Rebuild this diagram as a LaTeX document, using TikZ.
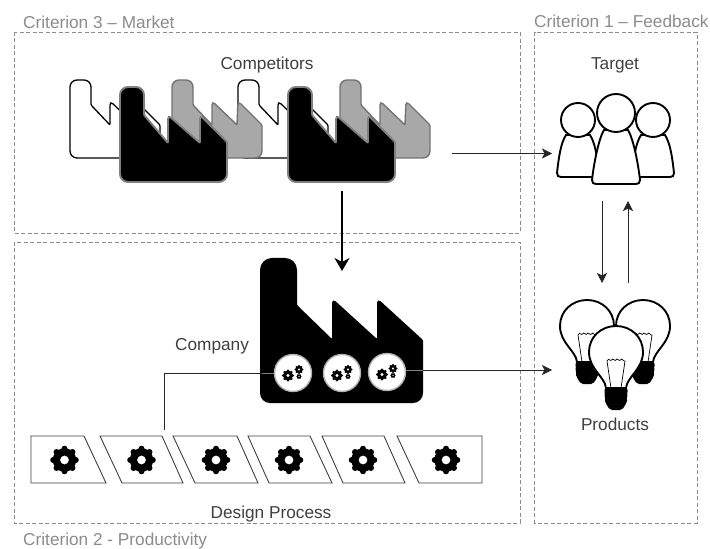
\documentclass[tikz,border=0pt]{standalone}
\usepackage{fontspec}
\setmainfont{Liberation Sans}
\usetikzlibrary{arrows.meta,calc}
\definecolor{crit}{gray}{0.55}
\definecolor{lab}{gray}{0.25}
\definecolor{midg}{gray}{0.66}
\newcommand{\factorypath}{
  (0,78) [rounded corners=7pt] -- (0,0) -- (21,0) [rounded corners=1pt] -- (21,25) -- (40,45) [rounded corners=4pt] -- (40,21) [rounded corners=1pt] -- (65,45) [rounded corners=4pt] -- (66,21) [rounded corners=1pt] -- (90,45) [rounded corners=7pt] -- (90,78) -- cycle}
\newcommand{\blackfactory}{
  (0,95) [rounded corners=8pt] -- (0,0) -- (24,0) [rounded corners=1pt] -- (24,28) -- (48,56) [rounded corners=4pt] -- (48,28) [rounded corners=1pt] -- (80,56) [rounded corners=4pt] -- (80,28) [rounded corners=1pt] -- (107,55) [rounded corners=8pt] -- (107,95) -- cycle}
\newcommand{\gearat}[3]{% x,y,r
  \foreach \a in {0,45,...,315}{\fill[black] ($(#1,#2)+(\a:#3*0.8)$) circle[radius=#3*0.22];}
  \fill[black,even odd rule] (#1,#2) circle[radius=#3*0.84] (#1,#2) circle[radius=#3*0.32];}
\newcommand{\bulb}[2]{%
  \begin{scope}[shift={(#1,#2)}]
    \filldraw[fill=white,draw=black,line width=1.9pt] (-10,0) .. controls (-11,-11) and (-27,-19) .. (-27,-36) .. controls (-27,-51) and (-15,-62) .. (0,-62) .. controls (15,-62) and (27,-51) .. (27,-36) .. controls (27,-19) and (11,-11) .. (10,0) -- cycle;
    \draw[black,line width=0.7pt] (-5,0) -- (-9,-27) .. controls (-7,-31) and (-6,-26) .. (-4.5,-28) .. controls (-3,-31) and (-1,-26) .. (0,-28) .. controls (1,-31) and (3,-26) .. (4.5,-28) .. controls (6,-31) and (7,-26) .. (9,-27) -- (5,0);
    \fill[black,rounded corners=2pt] (-11.5,0) -- (11.5,0) -- (11.5,6) -- (10.5,8) -- (11.5,11) -- (10.5,15) -- (6,22) -- (-6,22) -- (-10.5,15) -- (-11.5,11) -- (-10.5,8) -- (-11.5,6) -- cycle;
  \end{scope}}
\newcommand{\person}[5]{% cx, head cy, head r, half-width, bottom
  \filldraw[fill=white,draw=black,line width=1.9pt] (#1-12,#2+#3-2) -- (#1+12,#2+#3-2) .. controls (#1+17,#2+#3+6) and (#1+#4-2,#5-22) .. (#1+#4,#5-4) .. controls (#1+#4+0.5,#5-1) and (#1+#4-2,#5) .. (#1+#4-4,#5) -- (#1-#4+4,#5) .. controls (#1-#4+2,#5) and (#1-#4-0.5,#5-1) .. (#1-#4,#5-4) .. controls (#1-#4+2,#5-22) and (#1-17,#2+#3+6) .. cycle;
  \filldraw[fill=white,draw=black,line width=1.9pt] (#1,#2) circle[radius=#3];}
\tikzset{
  critbox/.style={draw=crit,line width=0.8pt,dash pattern=on 4bp off 2.5bp},
  critlabel/.style={text=crit,font=\fontsize{17.3}{20}\selectfont,anchor=base west,inner sep=0pt},
  partlabel/.style={text=lab,font=\fontsize{17.3}{20}\selectfont,anchor=base,inner sep=0pt},
  conn/.style={draw=black!85,line width=0.9pt},
  arr/.style={conn,-{Stealth[length=10bp,width=10bp,inset=2.5bp]}},
  bigarr/.style={draw=black,line width=1.1pt,-{Stealth[length=13bp,width=15bp,inset=4bp]}},
  stepshape/.style={draw=black!75,line width=0.9pt,fill=white},
}
\begin{document}
\begin{tikzpicture}[x=1bp,y=-1bp]
\useasboundingbox (0,0) rectangle (710,549);
\fill[white] (0,0) rectangle (710,549);
% boxes
\draw[critbox] (14,32) rectangle (520,233);
\draw[critbox] (14,242) rectangle (520,523);
\draw[critbox] (534.5,32) rectangle (697,523);
\node[critlabel] (c3) at (23,29) {Criterion 3 – Market};
\node[critlabel] (c1) at (534,28) {Criterion 1 – Feedback};
\node[critlabel] (c2) at (23,545) {Criterion 2 - Productivity};
\node[partlabel] (comp) at (267,70) {Competitors};
\node[partlabel] (tgt) at (615,70) {Target};
\node[partlabel] (cpy) at (212,350) {Company};
\node[partlabel] (prd) at (615,430) {Products};
\node[partlabel] (dsg) at (271,518) {Design Process};
% white factories
\foreach \dx in {0,168}{
\begin{scope}[shift={(70+\dx,80)}]
 \draw[fill=white,draw=black,line width=1.3pt] \factorypath;
\end{scope}}
\foreach \dx in {0,168}{
\begin{scope}[shift={(172+\dx,80)}]
 \draw[fill=midg,draw=black!55,line width=1.4pt] \factorypath;
\end{scope}}
\foreach \dx in {0,168}{
\begin{scope}[shift={(120+\dx,87)}]
 \draw[fill=black,draw=black!50,line width=1.9pt] \blackfactory;
\end{scope}}
% company
\fill[black] (260,403) [rounded corners=12pt] -- (260,258) -- (297,258) [rounded corners=1pt] -- (297,305) -- (332,339) [rounded corners=5pt] -- (332,298) [rounded corners=1pt] -- (377,339) [rounded corners=5pt] -- (377,298) [rounded corners=1pt] -- (423,340) [rounded corners=10pt] -- (423,403) -- cycle;
% connectors
\coordinate (a1) at (452,153.5);
\coordinate (a1e) at (552,153.5);
\coordinate (a2) at (342,191);
\coordinate (a2e) at (342,271);
\coordinate (a3) at (602,201);
\coordinate (a3e) at (602,283);
\coordinate (a4) at (628,283);
\coordinate (a4e) at (628,201);
\coordinate (a5) at (406,370);
\coordinate (a5e) at (552,370);
\coordinate (a6) at (275,373);
\coordinate (a6m) at (164,373);
\coordinate (a6e) at (164,430);
\draw[arr] (a1) -- (a1e);
\draw[bigarr] (a2) -- (a2e);
\draw[arr] (a3) -- (a3e);
\draw[arr] (a4) -- (a4e);
\draw[arr] (a5) -- (a5e);
\draw[conn] (a6) -- (a6m) -- (a6e);
\draw[draw=gray,line width=1pt] (262,373) -- (275,373);
\draw[draw=gray,line width=1pt] (406,370) -- (423,370);
% gear circles
\foreach \cx/\cy in {293/373,342/373,387/372}{
  \filldraw[fill=white,draw=black!30,line width=1.4pt] (\cx,\cy) circle[radius=18.5];
  \gearat{\cx-5}{\cy+2.5}{6}
  \gearat{\cx+6}{\cy-3.5}{4.5}
  \gearat{\cx+6}{\cy+3.5}{2.6}
}
% process
\foreach \tl/\tr/\bl/\br/\g in {31/84/31/106/64.5,100/162/122/183/141.5,173/237/195/258/216,248/310/269/332/289,322/384/343/405/363,397/482/419/482/446}{
  \draw[stepshape] (\tl,436) -- (\tr,436) -- (\br,483) -- (\bl,483) -- cycle;
  \gearat{\g}{460}{14}
}
% target
\person{578}{120}{17}{21}{177}
\person{653}{120}{17}{21}{177}
\person{616}{113}{19}{24}{184}
% products
\bulb{587}{362}
\bulb{643}{362}
\bulb{616}{388}
\end{tikzpicture}
\end{document}
